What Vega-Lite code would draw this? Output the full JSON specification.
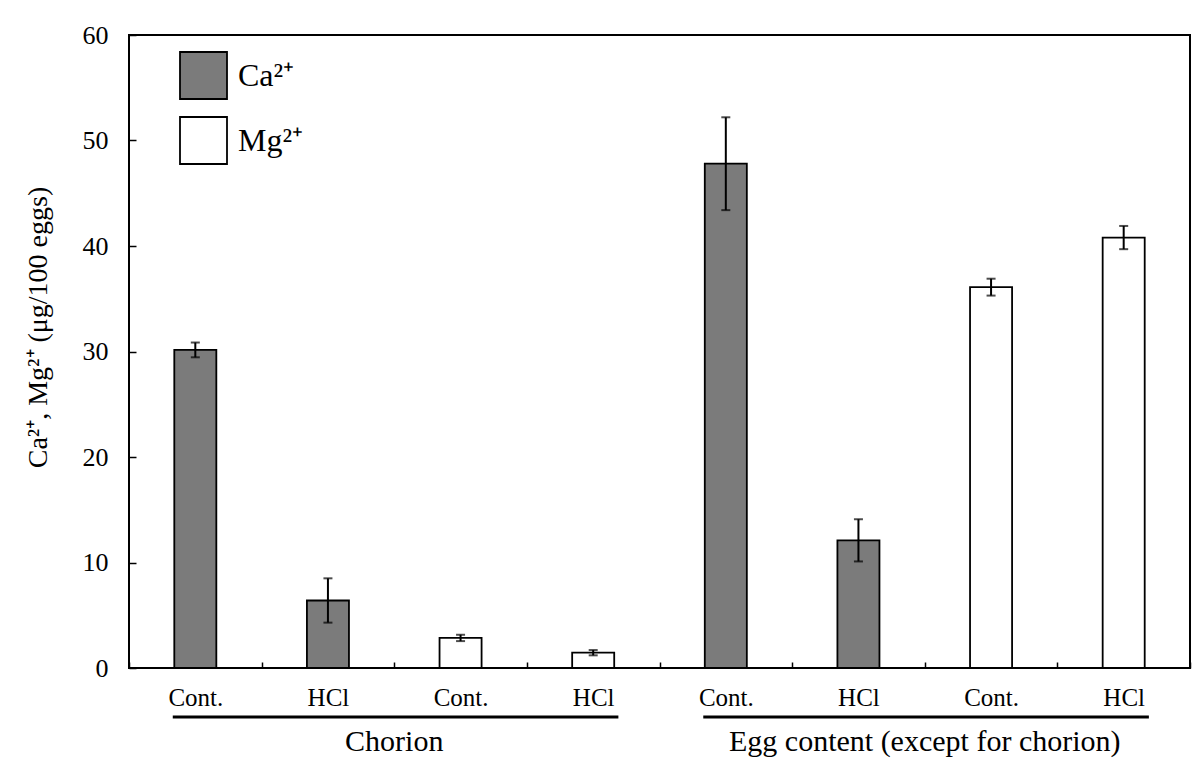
{
  "$schema": "https://vega.github.io/schema/vega-lite/v6.json",
  "width": 1061,
  "height": 633,
  "autosize": {"type": "none"},
  "padding": {"left": 129, "top": 35, "right": 9, "bottom": 90},
  "background": "white",
  "config": {
    "view": {"stroke": "black", "strokeWidth": 2},
    "font": "Liberation Serif",
    "axis": {
      "labelFont": "Liberation Serif",
      "titleFont": "Liberation Serif",
      "labelColor": "black",
      "titleColor": "black",
      "domainColor": "black",
      "tickColor": "black",
      "grid": false,
      "zindex": 1
    }
  },
  "datasets": {
    "bars": [
      {"cat": "Chorion|Cont.|Ca", "ion": "Ca²⁺", "value": 30.15, "lo": 29.45, "hi": 30.85},
      {"cat": "Chorion|HCl|Ca", "ion": "Ca²⁺", "value": 6.4, "lo": 4.3, "hi": 8.5},
      {"cat": "Chorion|Cont.|Mg", "ion": "Mg²⁺", "value": 2.85, "lo": 2.55, "hi": 3.15},
      {"cat": "Chorion|HCl|Mg", "ion": "Mg²⁺", "value": 1.45, "lo": 1.2, "hi": 1.7},
      {"cat": "Egg|Cont.|Ca", "ion": "Ca²⁺", "value": 47.8, "lo": 43.4, "hi": 52.2},
      {"cat": "Egg|HCl|Ca", "ion": "Ca²⁺", "value": 12.1, "lo": 10.1, "hi": 14.1},
      {"cat": "Egg|Cont.|Mg", "ion": "Mg²⁺", "value": 36.1, "lo": 35.3, "hi": 36.9},
      {"cat": "Egg|HCl|Mg", "ion": "Mg²⁺", "value": 40.8, "lo": 39.7, "hi": 41.9}
    ],
    "groups": [
      {"group": "Chorion", "from": "Chorion|Cont.|Ca", "to": "Chorion|HCl|Mg", "mid": "Chorion|HCl|Ca", "ypos": -4.64, "ytext": -7.05},
      {"group": "Egg content (except for chorion)", "from": "Egg|Cont.|Ca", "to": "Egg|HCl|Mg", "mid": "Egg|HCl|Ca", "ypos": -4.64, "ytext": -7.05}
    ]
  },
  "layer": [
    {
      "data": {"name": "bars"},
      "mark": {"type": "bar", "stroke": "black", "strokeWidth": 1.8, "width": {"band": 0.317}},
      "encoding": {
        "x": {
          "field": "cat",
          "type": "nominal",
          "title": null,
          "sort": null,
          "scale": {
            "domain": ["Chorion|Cont.|Ca", "Chorion|HCl|Ca", "Chorion|Cont.|Mg", "Chorion|HCl|Mg", "Egg|Cont.|Ca", "Egg|HCl|Ca", "Egg|Cont.|Mg", "Egg|HCl|Mg"],
            "paddingInner": 0,
            "paddingOuter": 0
          },
          "axis": {
            "title": null,
            "labelExpr": "split(datum.label, '|')[1]",
            "labelAngle": 0,
            "labelFontSize": 25,
            "labelPadding": 17,
            "domain": false,
            "offset": -6,
            "ticks": true,
            "tickBand": "extent",
            "tickSize": 6,
            "tickWidth": 1.5
          }
        },
        "y": {
          "field": "value",
          "type": "quantitative",
          "scale": {"domain": [0, 60], "nice": false},
          "axis": {
            "title": "Ca²⁺, Mg²⁺ (μg/100 eggs)",
            "titleFontSize": 28,
            "titleFontWeight": "normal",
            "titlePadding": 30,
            "titleY": 292,
            "values": [0, 10, 20, 30, 40, 50, 60],
            "labelFontSize": 26,
            "labelPadding": 21,
            "domain": false,
            "offset": -7,
            "ticks": true,
            "tickSize": 7,
            "tickWidth": 1.5
          }
        },
        "color": {
          "field": "ion",
          "type": "nominal",
          "scale": {"domain": ["Ca²⁺", "Mg²⁺"], "range": ["#7b7b7b", "#ffffff"]},
          "legend": {
            "title": null,
            "orient": "none",
            "legendX": 50,
            "legendY": 16,
            "symbolType": "square",
            "symbolSize": 2209,
            "symbolStrokeColor": "black",
            "symbolStrokeWidth": 1.8,
            "symbolOpacity": 1,
            "labelFont": "Liberation Serif",
            "labelFontSize": 32,
            "labelColor": "black",
            "labelOffset": 10,
            "rowPadding": 10
          }
        }
      }
    },
    {
      "data": {"name": "bars"},
      "mark": {"type": "rule", "color": "black", "strokeWidth": 2},
      "encoding": {
        "x": {"field": "cat", "type": "nominal", "title": null},
        "y": {"field": "lo", "type": "quantitative"},
        "y2": {"field": "hi"}
      }
    },
    {
      "data": {"name": "bars"},
      "transform": [{"fold": ["lo", "hi"], "as": ["end", "v"]}],
      "mark": {"type": "tick", "color": "black", "size": 9, "thickness": 2},
      "encoding": {
        "x": {"field": "cat", "type": "nominal", "title": null},
        "y": {"field": "v", "type": "quantitative"}
      }
    },
    {
      "data": {"name": "groups"},
      "mark": {"type": "rule", "color": "black", "strokeWidth": 3},
      "encoding": {
        "x": {"field": "from", "type": "nominal", "bandPosition": 0.33, "title": null},
        "x2": {"field": "to", "bandPosition": 0.69},
        "y": {"field": "ypos", "type": "quantitative"}
      }
    },
    {
      "data": {"name": "groups"},
      "mark": {"type": "text", "fontSize": 30, "baseline": "middle", "align": "center", "color": "black", "font": "Liberation Serif"},
      "encoding": {
        "x": {"field": "mid", "type": "nominal", "bandPosition": 1, "title": null},
        "y": {"field": "ytext", "type": "quantitative"},
        "text": {"field": "group"}
      }
    }
  ]
}
